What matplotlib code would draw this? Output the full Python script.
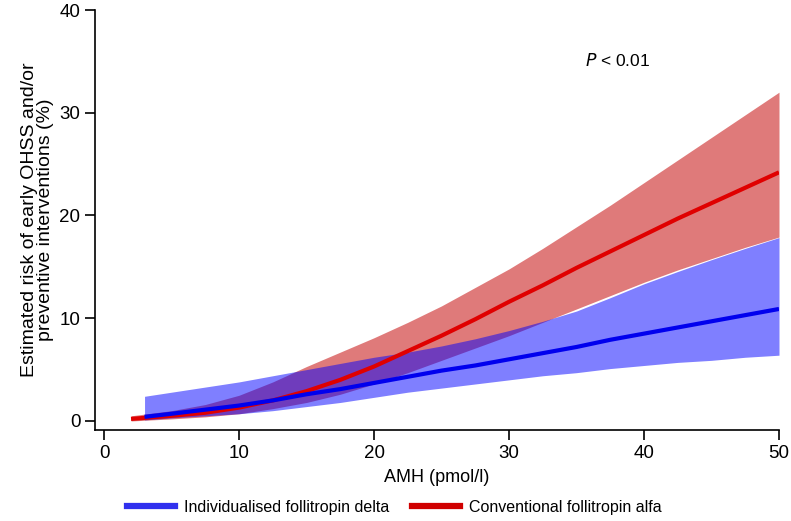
import matplotlib
matplotlib.use("Agg")
import matplotlib.pyplot as plt
from matplotlib.lines import Line2D

plt.rcParams["font.family"] = ["Liberation Sans", "DejaVu Sans"]
plt.rcParams["font.size"] = 12

# values
amh_red = [2, 5, 7.5, 10, 12.5, 15, 17.5, 20, 22.5, 25, 27.5, 30,
           32.5, 35, 37.5, 40, 42.5, 45, 47.5, 50]
red_est = [0.2, 0.5, 0.8, 1.3, 2.0, 2.9, 4.0, 5.3, 6.8, 8.3, 9.9, 11.6,
           13.2, 14.9, 16.5, 18.1, 19.7, 21.2, 22.7, 24.2]
red_lo = [0.0, 0.2, 0.4, 0.7, 1.2, 1.8, 2.6, 3.6, 4.7, 5.9, 7.1, 8.3,
          9.6, 10.9, 12.2, 13.5, 14.7, 15.8, 16.9, 17.9]
red_hi = [0.5, 1.0, 1.6, 2.5, 3.8, 5.3, 6.7, 8.1, 9.6, 11.2, 13.0, 14.8,
          16.8, 18.9, 21.0, 23.2, 25.4, 27.6, 29.8, 32.0]

amh_blue = [3, 5, 7.5, 10, 12.5, 15, 17.5, 20, 22.5, 25, 27.5, 30,
            32.5, 35, 37.5, 40, 42.5, 45, 47.5, 50]
blue_est = [0.4, 0.7, 1.1, 1.5, 2.0, 2.6, 3.1, 3.7, 4.3, 4.9, 5.4, 6.0,
            6.6, 7.2, 7.9, 8.5, 9.1, 9.7, 10.3, 10.9]
blue_lo = [0.1, 0.3, 0.5, 0.7, 1.0, 1.4, 1.8, 2.3, 2.8, 3.2, 3.6, 4.0,
           4.4, 4.7, 5.1, 5.4, 5.7, 5.9, 6.2, 6.4]
blue_hi = [2.4, 2.8, 3.3, 3.8, 4.4, 5.0, 5.6, 6.2, 6.7, 7.3, 8.0, 8.8,
           9.7, 10.7, 12.0, 13.35, 14.55, 15.7, 16.8, 17.85]

labels = ["Individualised follitropin delta", "Conventional follitropin alfa"]

fig = plt.figure(figsize=(7.91, 5.21), dpi=100)
ax = fig.add_axes([95/791, 91/521, (779-95)/791, (430-10)/521])

ax.fill_between(amh_red, red_lo, red_hi, color=(0.765, 0, 0), alpha=0.52, lw=0)
ax.plot(amh_red, red_est, color="#e00000", lw=3, solid_capstyle="butt")
ax.fill_between(amh_blue, blue_lo, blue_hi, color=(0, 0, 1), alpha=0.5, lw=0)
ax.plot(amh_blue, blue_est, color="#0000ee", lw=3, solid_capstyle="butt")

ax.set_xlim(-0.67, 50)
ax.set_ylim(-0.88, 40)
ax.set_xticks([0, 10, 20, 30, 40, 50])
ax.set_yticks([0, 10, 20, 30, 40])
for s in ["top", "right"]:
    ax.spines[s].set_visible(False)
for s in ["left", "bottom"]:
    ax.spines[s].set_linewidth(1.2)
ax.tick_params(direction="out", length=7, width=1.2, labelsize=13.5)

ax.set_xlabel("AMH (pmol/l)", fontsize=13, labelpad=5)
ax.set_ylabel("Estimated risk of early OHSS and/or\npreventive interventions (%)",
              fontsize=14, labelpad=4, linespacing=0.95)

ax.text(35.6, 35.1, "$P$ < 0.01", fontsize=12.5, va="center", ha="left")

handles = [Line2D([], [], color="#3030ee", lw=4.5),
           Line2D([], [], color="#d00000", lw=4.5)]
fig.legend(handles, labels, loc="center left", bbox_to_anchor=(0.152, 0.026),
           ncol=2, frameon=False, handlelength=3.0, handletextpad=0.6,
           columnspacing=1.4, fontsize=11.5, borderaxespad=0)

fig.savefig("out.png", dpi=100)
